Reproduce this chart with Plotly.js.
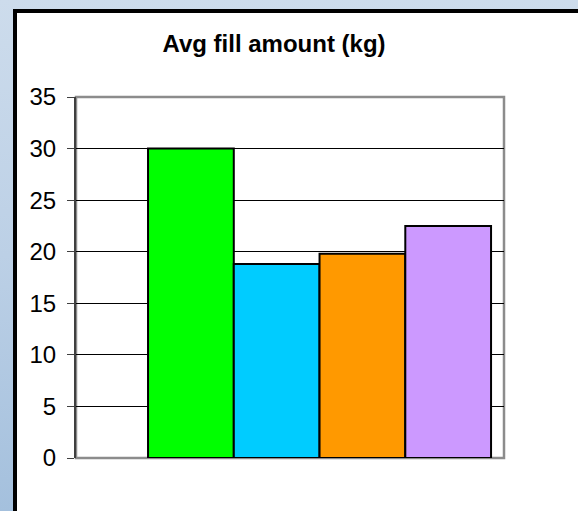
<!DOCTYPE html>
<html>
<head>
<meta charset="utf-8">
<script src="https://cdn.plot.ly/plotly-3.0.1.min.js"></script>
<style>
  html, body { margin: 0; padding: 0; overflow: hidden; background: #ffffff; }
  #stage {
    position: relative;
    width: 640px; height: 560px; overflow: hidden;
    background: linear-gradient(to bottom, #cddcec 0px, #bcd0e6 255px, #a4c0dd 511px);
  }
  /* white chart panel with a heavy black frame on its top and left edges */
  #panel {
    position: absolute; left: 13px; top: 9px; right: 0; bottom: 0;
    background: #ffffff;
    border-left: 4px solid #000000;
    border-top: 4px solid #000000;
  }
  #chart { position: absolute; left: 0; top: 0; width: 578px; height: 511px; }
</style>
</head>
<body>
<div id="stage">
  <div id="panel"></div>
  <div id="chart"></div>
</div>
<script>
// Average fill amount per group, in kilograms
const groups = ["Group 1", "Group 2", "Group 3", "Group 4"];
const positions = [0, 1, 2, 3];
const fillKg = [30, 18.8, 19.8, 22.5];
const barColors = ["#00ff00", "#00ccff", "#ff9900", "#cc99ff"];
const yTicks = [0, 5, 10, 15, 20, 25, 30, 35];

const trace = {
  type: "bar",
  x: positions,
  y: fillKg,
  width: 1,
  text: groups,
  hoverinfo: "text+y",
  textposition: "none",
  marker: {
    color: barColors,
    line: { color: "#000000", width: 2 }
  }
};

const layout = {
  width: 578,
  height: 511,
  margin: { l: 76, r: 74, t: 97, b: 53 },
  paper_bgcolor: "rgba(0,0,0,0)",
  plot_bgcolor: "#ffffff",
  showlegend: false,
  bargap: 0,
  font: { family: "Liberation Sans, Arial, sans-serif", color: "#000000" },
  title: {
    text: "<b>Avg fill amount (kg)</b>",
    font: { size: 24, color: "#000000", family: "Liberation Sans, Arial, sans-serif" },
    x: 274 / 578,
    xanchor: "center",
    xref: "container",
    y: 1 - 44 / 511,
    yanchor: "middle",
    yref: "container"
  },
  xaxis: {
    range: [-1.34, 3.651],
    showticklabels: false,
    ticks: "",
    showgrid: false,
    zeroline: false,
    showline: false,
    fixedrange: true
  },
  yaxis: {
    range: [0, 35],
    tickvals: yTicks,
    ticktext: yTicks.map(String),
    ticks: "outside",
    ticklen: 7,
    tickcolor: "#404040",
    tickwidth: 1,
    tickfont: { size: 24, color: "#000000" },
    ticklabelstandoff: 6,
    showgrid: true,
    gridcolor: "#000000",
    gridwidth: 1,
    zeroline: false,
    showline: true,
    linecolor: "#404040",
    linewidth: 2,
    fixedrange: true
  },
  shapes: [
    // grey plot-area outline
    {
      type: "rect", xref: "paper", yref: "paper", layer: "between",
      x0: 0, x1: 1, y0: 0, y1: 1,
      line: { color: "#8c8c8c", width: 2.5 }
    }
  ]
};

Plotly.newPlot("chart", [trace], layout, { displayModeBar: false, staticPlot: true });
</script>
</body>
</html>
